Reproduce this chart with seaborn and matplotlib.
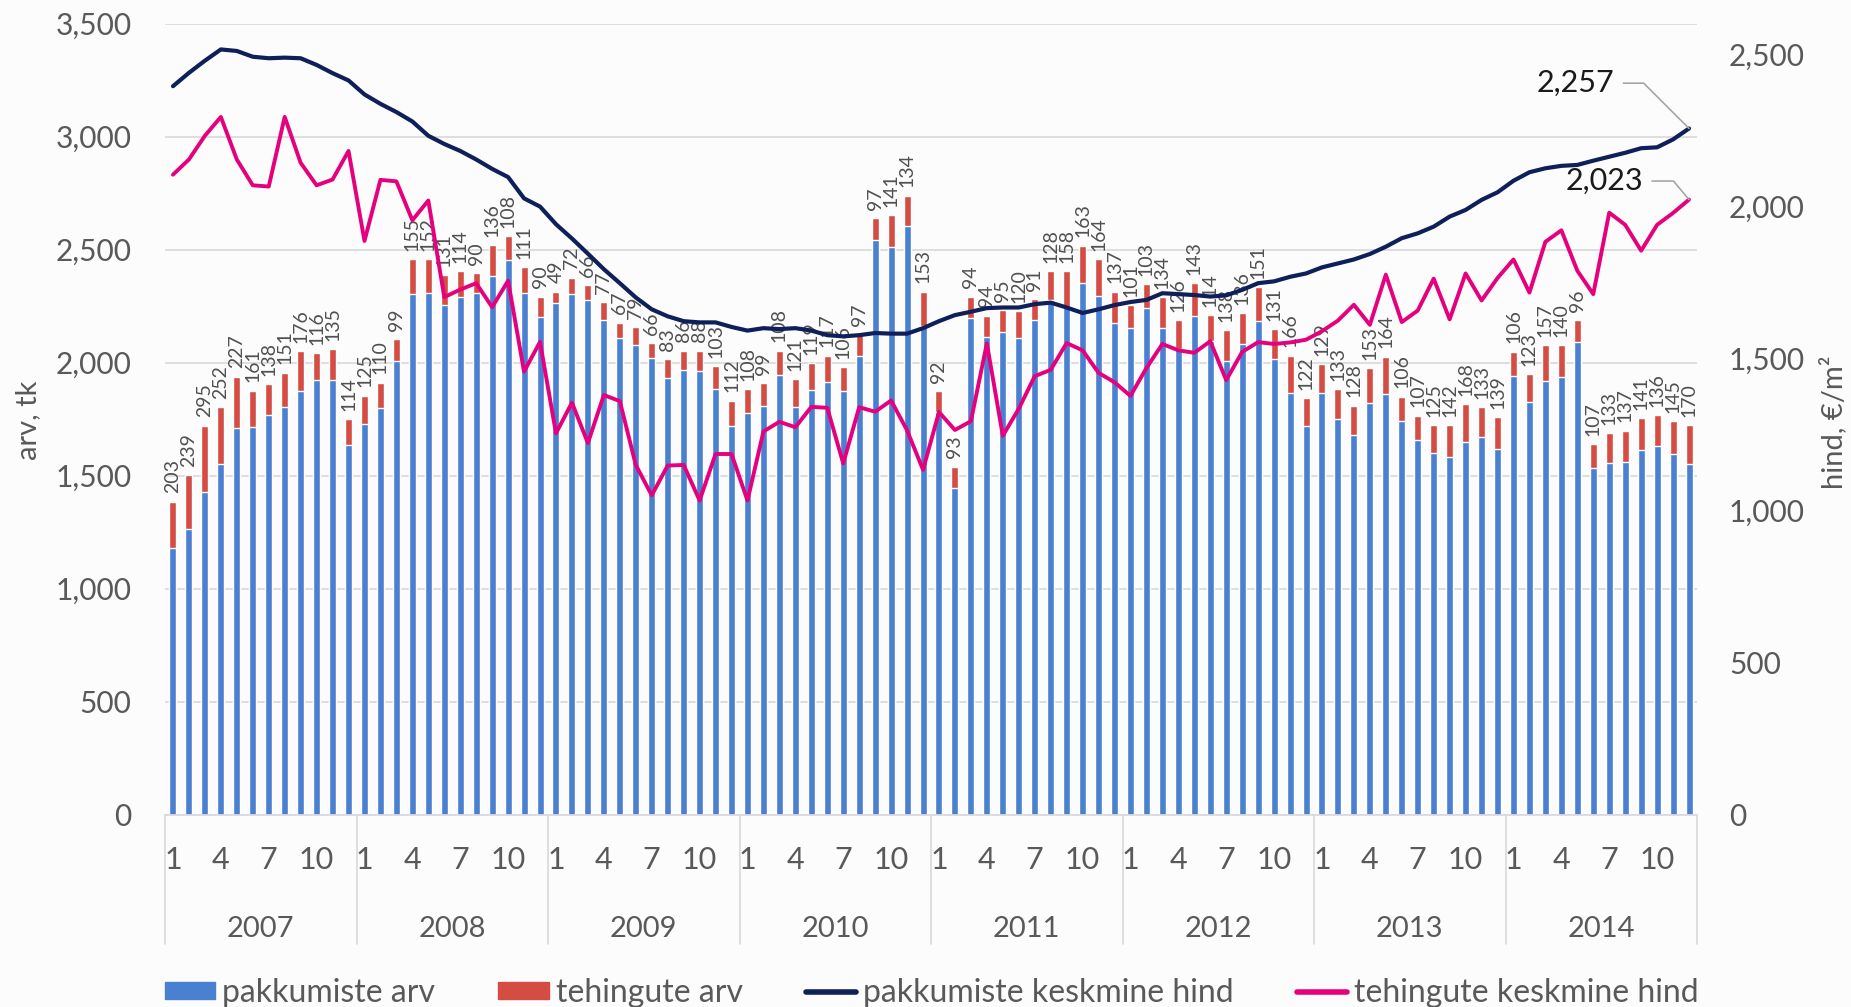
import numpy as np
import pandas as pd
import matplotlib
matplotlib.use("Agg")
import matplotlib.pyplot as plt
import matplotlib.transforms as mtransforms
from matplotlib.patches import Patch
from matplotlib.lines import Line2D
import seaborn as sns

# --- data ---
years = ["2007", "2008", "2009", "2010", "2011", "2012", "2013", "2014"]
month_ticks = ["1", "4", "7", "10"]

# offers count (blue part of the bar)
offers_count = [1181, 1263, 1425, 1552, 1710, 1714, 1767, 1804, 1875, 1925, 1925, 1636,
                1728, 1801, 2005, 2303, 2306, 2256, 2291, 2307, 2384, 2452, 2310, 2201,
                2264, 2303, 2277, 2189, 2109, 2077, 2019, 1931, 1966, 1964, 1882, 1719,
                1775, 1809, 1944, 1805, 1877, 1913, 1873, 2029, 2541, 2512, 2604, 2160,
                1782, 1447, 2197, 2113, 2137, 2108, 2189, 2277, 2247, 2354, 2294, 2176,
                2153, 2243, 2154, 2062, 2207, 2096, 2006, 2082, 2184, 2017, 1864, 1720,
                1864, 1750, 1681, 1821, 1862, 1743, 1658, 1598, 1581, 1648, 1671, 1618,
                1942, 1825, 1920, 1937, 2092, 1532, 1554, 1561, 1612, 1632, 1597, 1553]

# transactions count (red part of the bar, also the labels)
deals_count = [203, 239, 295, 252, 227, 161, 138, 151, 176, 116, 135, 114,
               125, 110, 99, 155, 152, 131, 114, 90, 136, 108, 111, 90,
               49, 72, 66, 77, 67, 79, 66, 83, 86, 88, 103, 112,
               108, 99, 108, 121, 119, 117, 106, 97, 97, 141, 134, 153,
               92, 93, 94, 94, 95, 120, 91, 128, 158, 163, 164, 137,
               101, 103, 134, 126, 143, 114, 138, 136, 151, 131, 166, 122,
               129, 133, 128, 153, 164, 106, 107, 125, 142, 168, 133, 139,
               106, 123, 157, 140, 96, 107, 133, 137, 141, 136, 145, 170]

# average offer price, EUR/m2
offer_price = [2396, 2440, 2480, 2517, 2512, 2493, 2488, 2490, 2488, 2466, 2439, 2415,
               2369, 2338, 2311, 2280, 2233, 2206, 2183, 2155, 2124, 2097, 2027, 2000,
               1942, 1895, 1845, 1794, 1748, 1701, 1662, 1639, 1623, 1619, 1619, 1604,
               1592, 1600, 1597, 1600, 1592, 1577, 1573, 1577, 1584, 1582, 1582, 1600,
               1623, 1643, 1654, 1666, 1668, 1668, 1679, 1684, 1668, 1650, 1662, 1676,
               1686, 1693, 1715, 1712, 1709, 1704, 1708, 1726, 1748, 1754, 1769, 1780,
               1800, 1813, 1826, 1844, 1868, 1896, 1912, 1934, 1967, 1989, 2022, 2047,
               2085, 2113, 2126, 2134, 2137, 2151, 2164, 2177, 2192, 2195, 2221, 2257]

# average transaction price, EUR/m2
deal_price = [2105, 2155, 2233, 2295, 2155, 2070, 2066, 2295, 2144, 2070, 2089, 2183,
              1887, 2088, 2083, 1955, 2020, 1702, 1727, 1748, 1669, 1756, 1457, 1555,
              1254, 1355, 1222, 1380, 1360, 1150, 1050, 1148, 1150, 1033, 1186, 1186,
              1033, 1260, 1292, 1274, 1341, 1338, 1155, 1340, 1325, 1362, 1264, 1134,
              1324, 1265, 1294, 1550, 1246, 1335, 1442, 1463, 1551, 1527, 1453, 1422,
              1377, 1469, 1548, 1527, 1519, 1557, 1429, 1522, 1554, 1548, 1553, 1562,
              1590, 1625, 1677, 1611, 1776, 1620, 1658, 1763, 1629, 1780, 1691, 1765,
              1826, 1717, 1884, 1922, 1789, 1712, 1980, 1940, 1855, 1940, 1979, 2023]

series_names = ["pakkumiste arv", "tehingute arv",
                "pakkumiste keskmine hind", "tehingute keskmine hind"]

BLUE = "#4a80d2"
RED = "#d44c42"
NAVY = "#0f1f5a"
MAGENTA = "#e5007d"
TXT = "#595959"
GRID = "#d9d9d9"

df = pd.DataFrame({"idx": np.arange(len(offers_count)),
                   "offers": offers_count, "deals": deals_count,
                   "offer_price": offer_price, "deal_price": deal_price})
df["total"] = df["offers"] + df["deals"]

sns.set_theme(style="white")
plt.rcParams["font.family"] = ["Lato", "DejaVu Sans"]

W, H = 1851, 1007
fig = plt.figure(figsize=(W / 100, H / 100), dpi=100, facecolor="#fcfcfc")
ax = fig.add_axes([165 / W, 1 - 814.5 / H, (1697 - 165) / W, (814.5 - 23.6) / H])
ax.set_facecolor("none")

# stacked bars: full height in red, blue part drawn over it
sns.barplot(data=df, x="idx", y="total", color=RED, saturation=1, width=0.44,
            errorbar=None, ax=ax)
sns.barplot(data=df, x="idx", y="offers", color=BLUE, saturation=1, width=0.44,
            errorbar=None, ax=ax)

for i, (tot, d) in enumerate(zip(df["total"], df["deals"])):
    ax.annotate(str(d), xy=(i, tot), xytext=(0, 6), textcoords="offset points",
                rotation=90, ha="center", va="bottom", fontsize=14, color="#505050")

ax.set_ylim(0, 3500)
ax.set_xlim(-0.5, len(df) - 0.5)
ax.set_yticks(range(0, 3501, 500))
ax.set_yticklabels([f"{v:,}" for v in range(0, 3501, 500)])
ax.yaxis.grid(True, color=GRID, lw=1.2)
ax.set_axisbelow(True)
for s in ["left", "right", "top"]:
    ax.spines[s].set_visible(False)
ax.spines["bottom"].set_color(GRID)
ax.tick_params(axis="y", length=0, pad=24, labelsize=21.5, labelcolor=TXT)
ax.set_xticks([])
ax.set_xlabel("")
ax.set_ylabel("")

# two-level category axis
trans = mtransforms.blended_transform_factory(ax.transData, ax.transAxes)
for k, yr in enumerate(years):
    for j, m in enumerate(month_ticks):
        ax.text(k * 12 + j * 3, -0.057, m, transform=trans, ha="center", va="center",
                fontsize=22, color=TXT)
    ax.text(k * 12 + 5.5, -0.145, yr, transform=trans, ha="center", va="center",
            fontsize=21, color=TXT)
for k in range(len(years) + 1):
    ax.plot([k * 12 - 0.5, k * 12 - 0.5], [0, -0.164], transform=trans, color=GRID,
            lw=1.2, clip_on=False)

# price lines on the right axis
ax2 = ax.twinx()
sns.lineplot(data=df, x="idx", y="offer_price", color=NAVY, lw=3, ax=ax2, legend=False)
sns.lineplot(data=df, x="idx", y="deal_price", color=MAGENTA, lw=2.8, ax=ax2, legend=False)
ax2.set_ylim(0, 2602)
ax2.set_xlim(-0.5, len(df) - 0.5)
ax2.set_yticks(range(0, 2501, 500))
ax2.set_yticklabels([f"{v:,}" for v in range(0, 2501, 500)])
ax2.tick_params(axis="y", length=0, pad=23, labelsize=21.5, labelcolor=TXT)
ax2.set_xlabel("")
ax2.set_ylabel("")
for s in ax2.spines.values():
    s.set_visible(False)

last = len(df) - 1
ax2.annotate(f"{offer_price[-1]:,}", xy=(last, offer_price[-1]), xytext=(87.9, 2406),
             ha="center", va="center", fontsize=22, color="#1a1a1a",
             arrowprops=dict(arrowstyle="-", color="#a6a6a6", lw=1.2, shrinkA=4, shrinkB=0,
                             relpos=(1, 0.5), connectionstyle="angle,angleA=0,angleB=135,rad=0"))
ax2.annotate(f"{deal_price[-1]:,}", xy=(last, deal_price[-1]), xytext=(89.7, 2084),
             ha="center", va="center", fontsize=22, color="#1a1a1a",
             arrowprops=dict(arrowstyle="-", color="#a6a6a6", lw=1.2, shrinkA=4, shrinkB=0,
                             relpos=(1, 0.5), connectionstyle="angle,angleA=0,angleB=130,rad=0"))

fig.text(28 / W, 1 - 420 / H, "arv, tk", rotation=90, ha="center", va="center",
         fontsize=21, color=TXT)
fig.text(1833 / W, 1 - 422 / H, "hind, €/m²", rotation=90, ha="center", va="center",
         fontsize=21, color=TXT)

handles = [Patch(color=BLUE), Patch(color=RED),
           Line2D([], [], color=NAVY, lw=4), Line2D([], [], color=MAGENTA, lw=4)]
fig.legend(handles, series_names, loc="center left", bbox_to_anchor=(165 / W, 0.014),
           ncol=4, frameon=False, fontsize=23, labelcolor=TXT, handlelength=1.58,
           handleheight=0.45, handletextpad=0.22, columnspacing=1.97,
           borderpad=0, borderaxespad=0)

fig.savefig("out.png", dpi=100, facecolor=fig.get_facecolor())
